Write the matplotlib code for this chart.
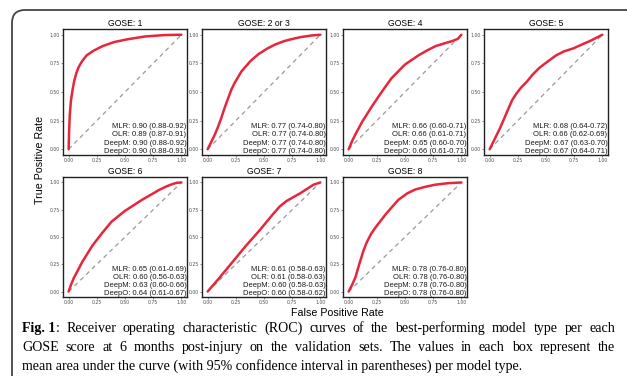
# ROC curves per GOSE score, with the figure caption below

import matplotlib.pyplot as plt
from matplotlib.patches import FancyBboxPatch
from matplotlib.transforms import IdentityTransform

# Panel titles
titles = ['GOSE: 1', 'GOSE: 2 or 3', 'GOSE: 4', 'GOSE: 5', 'GOSE: 6', 'GOSE: 7', 'GOSE: 8']

# ROC curves (false positive rate, true positive rate)
fpr_1 = [0, 0.004, 0.01, 0.02, 0.035, 0.05, 0.07, 0.09, 0.12, 0.16, 0.22, 0.3, 0.4, 0.52, 0.68, 0.85, 1]
tpr_1 = [0, 0.15, 0.3, 0.42, 0.52, 0.6, 0.67, 0.72, 0.77, 0.82, 0.86, 0.9, 0.935, 0.96, 0.985, 0.997, 1]
fpr_23 = [0, 0.03, 0.06, 0.09, 0.12, 0.15, 0.18, 0.21, 0.24, 0.3, 0.38, 0.45, 0.53, 0.6, 0.68, 0.76, 0.83, 0.92, 1]
tpr_23 = [0, 0.06, 0.12, 0.19, 0.27, 0.36, 0.44, 0.52, 0.58, 0.68, 0.77, 0.83, 0.88, 0.915, 0.945, 0.965, 0.98, 0.993, 1]
fpr_4 = [0, 0.03, 0.06, 0.12, 0.21, 0.3, 0.38, 0.5, 0.62, 0.7, 0.77, 0.85, 0.92, 0.97, 1]
tpr_4 = [0, 0.07, 0.13, 0.24, 0.38, 0.51, 0.62, 0.74, 0.82, 0.865, 0.9, 0.925, 0.945, 0.965, 1]
fpr_5 = [0, 0.04, 0.09, 0.13, 0.16, 0.2, 0.24, 0.28, 0.33, 0.38, 0.44, 0.52, 0.59, 0.66, 0.74, 0.82, 0.89, 0.95, 1]
tpr_5 = [0, 0.08, 0.18, 0.27, 0.34, 0.43, 0.49, 0.54, 0.59, 0.65, 0.71, 0.77, 0.82, 0.855, 0.88, 0.915, 0.945, 0.975, 1]
fpr_6 = [0, 0.02, 0.044, 0.08, 0.12, 0.21, 0.3, 0.38, 0.5, 0.65, 0.8, 0.87, 0.92, 0.96, 1]
tpr_6 = [0, 0.06, 0.12, 0.19, 0.27, 0.42, 0.54, 0.64, 0.74, 0.84, 0.93, 0.965, 0.985, 0.997, 1]
fpr_7 = [0, 0.1, 0.22, 0.34, 0.46, 0.58, 0.64, 0.7, 0.76, 0.82, 0.88, 0.94, 1]
tpr_7 = [0, 0.12, 0.27, 0.42, 0.56, 0.71, 0.78, 0.83, 0.865, 0.9, 0.94, 0.98, 1]
fpr_8 = [0, 0.03, 0.06, 0.1, 0.13, 0.16, 0.2, 0.24, 0.33, 0.44, 0.52, 0.59, 0.68, 0.77, 0.88, 1]
tpr_8 = [0, 0.06, 0.13, 0.27, 0.37, 0.45, 0.53, 0.59, 0.71, 0.84, 0.9, 0.935, 0.96, 0.98, 0.993, 1]

curves = [(fpr_1, tpr_1), (fpr_23, tpr_23), (fpr_4, tpr_4), (fpr_5, tpr_5),
          (fpr_6, tpr_6), (fpr_7, tpr_7), (fpr_8, tpr_8)]

# Mean AUC (95% CI) per model type
models = ['MLR', 'OLR', 'DeepM', 'DeepO']
auc_1 = ['0.90 (0.88-0.92)', '0.89 (0.87-0.91)', '0.90 (0.88-0.92)', '0.90 (0.88-0.91)']
auc_23 = ['0.77 (0.74-0.80)', '0.77 (0.74-0.80)', '0.77 (0.74-0.80)', '0.77 (0.74-0.80)']
auc_4 = ['0.66 (0.60-0.71)', '0.66 (0.61-0.71)', '0.65 (0.60-0.70)', '0.66 (0.61-0.71)']
auc_5 = ['0.68 (0.64-0.72)', '0.66 (0.62-0.69)', '0.67 (0.63-0.70)', '0.67 (0.64-0.71)']
auc_6 = ['0.65 (0.61-0.69)', '0.60 (0.56-0.63)', '0.63 (0.60-0.66)', '0.64 (0.61-0.67)']
auc_7 = ['0.61 (0.58-0.63)', '0.61 (0.58-0.63)', '0.60 (0.58-0.63)', '0.60 (0.58-0.62)']
auc_8 = ['0.78 (0.76-0.80)', '0.78 (0.76-0.80)', '0.78 (0.76-0.80)', '0.78 (0.76-0.80)']
aucs = [auc_1, auc_23, auc_4, auc_5, auc_6, auc_7, auc_8]

ticks = [0, 0.25, 0.5, 0.75, 1]
tick_labels = ['0.00', '0.25', '0.50', '0.75', '1.00']

caption_1 = ': Receiver operating characteristic (ROC) curves of the best-performing model type per each'
caption_2 = 'GOSE score at 6 months post-injury on the validation sets. The values in each box represent the'
caption_3 = 'mean area under the curve (with 95% confidence interval in parentheses) per model type.'

W, H = 627, 376
fig = plt.figure(figsize=(W / 100, H / 100), dpi=100)

# rounded frame running off the right and bottom edges (pixel coords)
frame = FancyBboxPatch((12, -60), 700, H - 10 + 60,
                       boxstyle='round,pad=0,rounding_size=13',
                       transform=IdentityTransform(), fill=False,
                       edgecolor='#444444', linewidth=1.3)
fig.patches.append(frame)

# panel boxes in pixels: left edges, widths, top row and bottom row
lefts = [63, 202, 343, 484, 63, 202, 343]
rows = [(155, 126)] * 4 + [(297, 120)] * 3

for i in range(7):
    bottom, height = rows[i]
    ax = fig.add_axes([lefts[i] / W, 1 - bottom / H, 124 / W, height / H])
    fpr, tpr = curves[i]
    ax.plot([0, 1], [0, 1], color='#9a9a9a', lw=0.9, dashes=(3.5, 3))
    ax.plot(fpr, tpr, color='#e8253a', lw=1.8, solid_capstyle='round',
            solid_joinstyle='round')
    ax.set_xlim(-0.05, 1.05)
    ax.set_ylim(-0.05, 1.05)
    ax.set_xticks(ticks)
    ax.set_xticklabels(tick_labels)
    ax.set_yticks(ticks)
    ax.set_yticklabels(tick_labels)
    ax.tick_params(labelsize=3.3, length=1.5, width=0.4, pad=1, colors='#333333',
                   labelcolor='#4d4d4d')
    for s in ax.spines.values():
        s.set_linewidth(1.0)
        s.set_color('#222222')
    ax.set_title(titles[i], fontsize=6.2, pad=2, family='Liberation Sans')
    # AUC lines, bottom right
    for j, m in enumerate(models):
        ax.text(1.045, 0.2 - 0.073 * j, m + ': ' + aucs[i][j], ha='right', va='center',
                fontsize=5.5, family='Liberation Sans', color='#1a1a1a')

fig.text(40 / W, 1 - 160 / H, 'True Positive Rate', rotation=90, ha='center', va='center',
         fontsize=7.7, family='Liberation Sans')
fig.text(337 / W, 1 - 313 / H, 'False Positive Rate', ha='center', va='center',
         fontsize=7.7, family='Liberation Sans')

# caption: justified lines between x0 and x1 (pixels), y is the baseline
cap_size = 10.1
renderer = fig.canvas.get_renderer()


def justify(words, x0, x1, y):
    texts = [fig.text(0, 1 - y / H, w, fontsize=cap_size, family='Liberation Serif',
                      va='baseline') for w in words]
    widths = [t.get_window_extent(renderer).width for t in texts]
    gap = (x1 - x0 - sum(widths)) / (len(words) - 1)
    x = x0
    for t, w in zip(texts, widths):
        t.set_x(x / W)
        x += w + gap


t = fig.text(22 / W, 1 - 332 / H, 'Fig. 1', fontsize=cap_size, weight='bold',
             family='Liberation Serif', va='baseline')
bb = t.get_window_extent(renderer)
justify(caption_1.split(), bb.x1, 615, 332)
justify(caption_2.split(), 22, 615, 351)
fig.text(22 / W, 1 - 370 / H, caption_3, fontsize=cap_size, family='Liberation Serif',
         va='baseline')

fig.savefig('out.png', dpi=100)
